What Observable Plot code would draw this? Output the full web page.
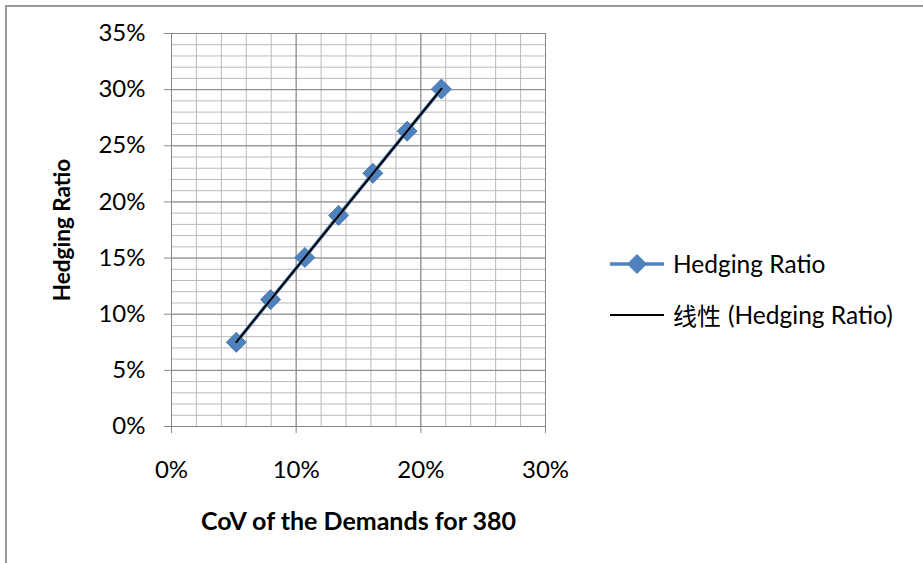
<!DOCTYPE html>
<html>
<head>
<meta charset="utf-8">
<script src="https://cdn.jsdelivr.net/npm/d3@7"></script>
<script src="https://cdn.jsdelivr.net/npm/@observablehq/plot@0.6"></script>
<style>
  html, body { margin: 0; padding: 0; background: #fff; }
  #wrap { position: relative; width: 923px; height: 563px; overflow: hidden; font-family: Lato, "Noto Sans CJK SC", sans-serif; }
  #wrap svg.plot { position: absolute; left: 0; top: 0; }
  #border { position: absolute; left: 5px; top: 5px; width: 930px; height: 570px; border-top: 2px solid #9a9a9a; border-left: 2px solid #9a9a9a; }
  .legend { position: absolute; left: 608px; font-size: 24.5px; color: #000; display: flex; align-items: center; white-space: nowrap; }
  .legend svg { margin-right: 7px; }
  .legend .cjk { font-size: 24px; margin-right: 7px; }
</style>
</head>
<body>
<div id="wrap">
  <div id="border"></div>
</div>
<script>
// Coefficient of variation of demand vs. hedging ratio
const cov = [0.052, 0.0795, 0.107, 0.134, 0.1615, 0.189, 0.2165];
const hedgingRatio = [0.075, 0.113, 0.1505, 0.188, 0.2255, 0.263, 0.3005];

// Axis ticks
const xTicks = [0, 0.1, 0.2, 0.3];
const yTicks = [0, 0.05, 0.1, 0.15, 0.2, 0.25, 0.3, 0.35];

const xTitle = "CoV of the Demands for 380";
const yTitle = "Hedging Ratio";
const seriesName = "Hedging Ratio";
const trendPrefix = "线性";
const trendName = "(Hedging Ratio)";

const data = cov.map((x, i) => ({x, y: hedgingRatio[i]}));

const blue = "#4F81BD";
const majorGrid = "#878787";
const minorGrid = "#bababa";
const pct = d3.format(".0%");

// minor grid every 2% on x and 1% on y
const xMinor = d3.range(0, 0.3001, 0.02);
const yMinor = d3.range(0, 0.3501, 0.01);

const chart = Plot.plot({
  width: 923,
  height: 563,
  marginLeft: 171,
  marginRight: 378,
  marginTop: 33,
  marginBottom: 137,
  style: {fontFamily: "Lato, 'Noto Sans CJK SC', sans-serif", background: "transparent"},
  x: {domain: [0, 0.3]},
  y: {domain: [0, 0.35]},
  marks: [
    Plot.ruleX(xMinor, {stroke: minorGrid, strokeWidth: 1}),
    Plot.ruleY(yMinor, {stroke: minorGrid, strokeWidth: 1}),
    Plot.ruleX(xTicks, {stroke: majorGrid, strokeWidth: 1}),
    Plot.ruleY(yTicks, {stroke: majorGrid, strokeWidth: 1}),
    Plot.axisY({ticks: yTicks, tickFormat: pct, tickSize: 7, tickPadding: 19, stroke: majorGrid, fill: "#000", fontSize: 24, label: null}),
    Plot.axisX({ticks: xTicks, tickFormat: pct, tickSize: 7, tickPadding: 27, stroke: majorGrid, fill: "#000", fontSize: 24, label: null}),
    Plot.line(data, {x: "x", y: "y", stroke: blue, strokeWidth: 3.5}),
    Plot.dot(data, {x: "x", y: "y", symbol: "diamond2", r: 9, fill: blue, stroke: "#4a7ab3", strokeWidth: 1}),
    Plot.linearRegressionY(data, {x: "x", y: "y", ci: 0, stroke: "#000", strokeWidth: 2}),
    Plot.text([xTitle], {frameAnchor: "bottom", dy: 103, fontSize: 25, fontWeight: "bold", fill: "#000"}),
    Plot.text([yTitle], {frameAnchor: "left", textAnchor: "middle", dx: -109, rotate: -90, fontSize: 22.5, fontWeight: "bold", fill: "#000"})
  ]
});
chart.classList.add("plot");
const wrap = document.getElementById("wrap");
wrap.insertBefore(chart, wrap.firstChild);

// Legend entries
function legendRow(top, prefix, label, withMarker, color, width) {
  const row = document.createElement("div");
  row.className = "legend";
  row.style.top = top + "px";
  const ns = "http://www.w3.org/2000/svg";
  const s = document.createElementNS(ns, "svg");
  s.setAttribute("width", 58); s.setAttribute("height", 24);
  const l = document.createElementNS(ns, "line");
  l.setAttribute("x1", 2); l.setAttribute("x2", 56); l.setAttribute("y1", 12); l.setAttribute("y2", 12);
  l.setAttribute("stroke", color); l.setAttribute("stroke-width", width);
  s.appendChild(l);
  if (withMarker) {
    const p = document.createElementNS(ns, "path");
    p.setAttribute("d", d3.symbol(d3.symbolDiamond2, Math.PI * 9 * 9)());
    p.setAttribute("transform", "translate(29,12)");
    p.setAttribute("fill", color);
    s.appendChild(p);
  }
  row.appendChild(s);
  if (prefix) {
    const c = document.createElement("span");
    c.className = "cjk";
    c.textContent = prefix;
    row.appendChild(c);
  }
  const t = document.createElement("span");
  t.textContent = label;
  row.appendChild(t);
  wrap.appendChild(row);
}
legendRow(249, null, seriesName, true, blue, 3.5);
legendRow(297, trendPrefix, trendName, false, "#000", 2);
</script>
</body>
</html>
